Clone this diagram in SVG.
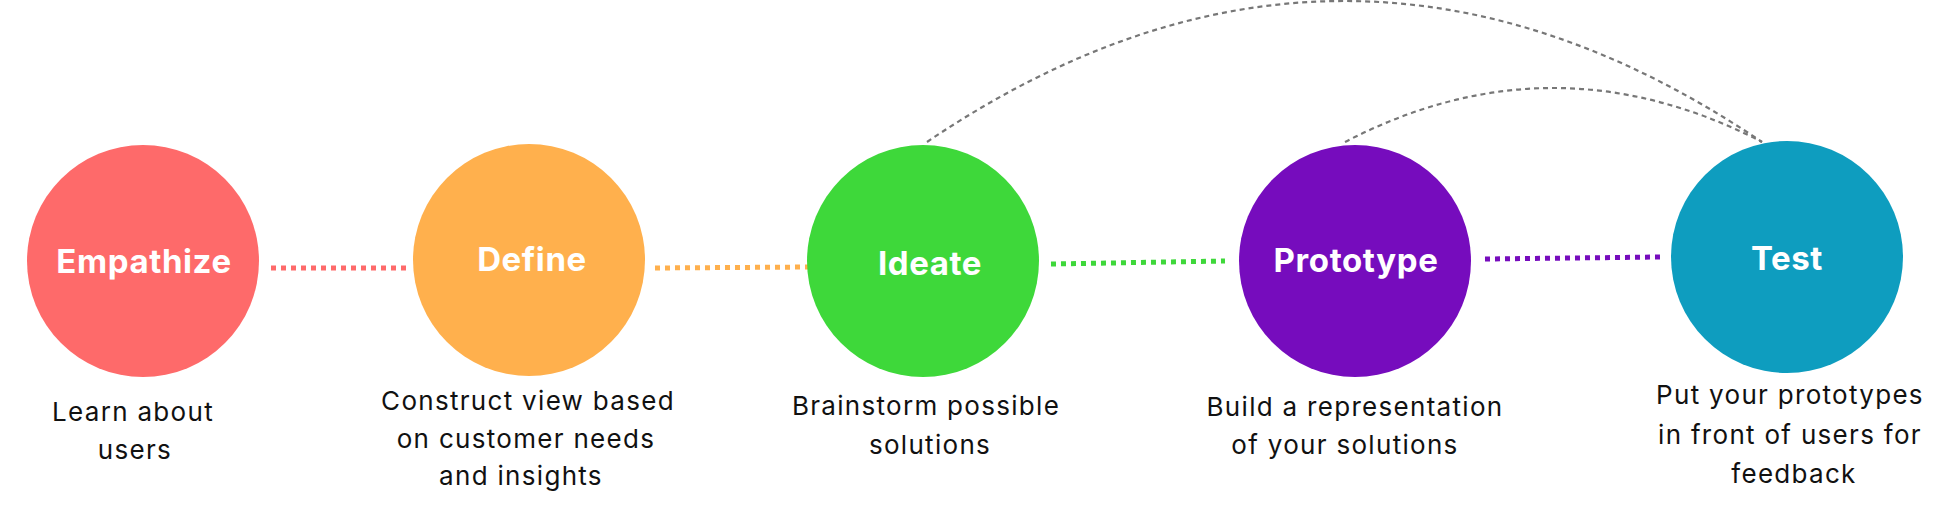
<svg xmlns="http://www.w3.org/2000/svg" width="1950" height="525" viewBox="0 0 1950 525">
  <style>
    .title { font-family: Inter, "Liberation Sans", sans-serif; font-weight: 700; font-size: 33px; fill: #ffffff; text-anchor: middle; letter-spacing: 0.6px; }
    .desc { font-family: Inter, "Liberation Sans", sans-serif; font-weight: 400; font-size: 26px; fill: #111111; text-anchor: middle; letter-spacing: 1.3px; }
    .link { fill: none; stroke-width: 5; stroke-dasharray: 5 5; }
    .loop { fill: none; stroke: #777777; stroke-width: 2.2; stroke-dasharray: 5 4; }
  </style>
  <rect width="1950" height="525" fill="#ffffff"/>
  <g id="connectors">
    <line class="link" x1="271" y1="268" x2="407" y2="268" stroke="#FE6A6A"/>
    <line class="link" x1="655" y1="268" x2="810" y2="267" stroke="#FFB04D"/>
    <line class="link" x1="1051" y1="264" x2="1225" y2="261" stroke="#3ED83A"/>
    <line class="link" x1="1485" y1="259" x2="1660" y2="257" stroke="#760CBD"/>
    <path class="loop" d="M 927 142 Q 1344 -140 1762 142"/>
    <path class="loop" d="M 1345 142 Q 1553 34 1762 142"/>
  </g>
  <g id="empathize">
    <circle cx="143" cy="261" r="116" fill="#FE6A6A"/>
    <text class="title" x="144" y="273">Empathize</text>
    <text class="desc" x="133" y="421">Learn about</text>
    <text class="desc" x="135" y="459">users</text>
  </g>
  <g id="define">
    <circle cx="529" cy="260" r="116" fill="#FFB04D"/>
    <text class="title" x="532" y="271">Define</text>
    <text class="desc" x="528" y="410">Construct view based</text>
    <text class="desc" x="526" y="448">on customer needs</text>
    <text class="desc" x="521" y="485">and insights</text>
  </g>
  <g id="ideate">
    <circle cx="923" cy="261" r="116" fill="#3ED83A"/>
    <text class="title" x="930" y="275">Ideate</text>
    <text class="desc" x="926" y="415">Brainstorm possible</text>
    <text class="desc" x="930" y="454">solutions</text>
  </g>
  <g id="prototype">
    <circle cx="1355" cy="261" r="116" fill="#760CBD"/>
    <text class="title" x="1356" y="272">Prototype</text>
    <text class="desc" x="1355" y="416">Build a representation</text>
    <text class="desc" x="1345" y="454">of your solutions</text>
  </g>
  <g id="test">
    <circle cx="1787" cy="257" r="116" fill="#0E9DBF"/>
    <text class="title" x="1787" y="270">Test</text>
    <text class="desc" x="1790" y="404">Put your prototypes</text>
    <text class="desc" x="1790" y="444">in front of users for</text>
    <text class="desc" x="1794" y="483">feedback</text>
  </g>
</svg>
